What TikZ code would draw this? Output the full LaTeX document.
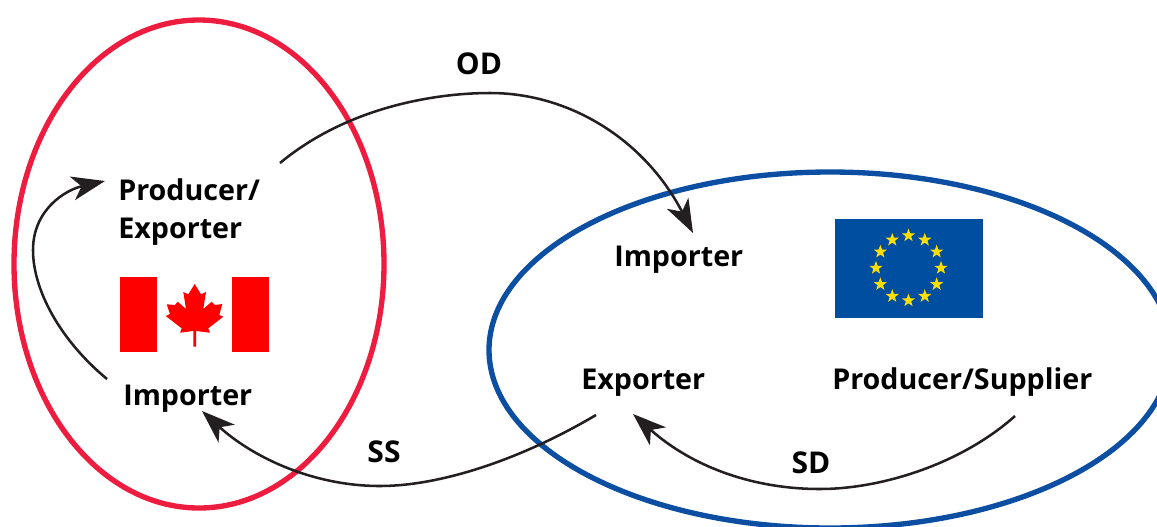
\documentclass[tikz,border=0pt]{standalone}
\usepackage{fontspec}
\setmainfont{Open Sans}
\usetikzlibrary{arrows.meta,shapes.geometric}
\definecolor{redring}{HTML}{EE1C3E}
\definecolor{bluering}{HTML}{0B4EA2}
\definecolor{arrowk}{HTML}{231F20}
\definecolor{euyellow}{HTML}{FFDD00}
\definecolor{eublue}{HTML}{004E9F}
\definecolor{mapler}{HTML}{FF0000}
\tikzset{
  x=0.75pt,y=-0.75pt,
  lab/.style={font=\fontsize{21.5pt}{28pt}\selectfont\bfseries,text=black,inner sep=0pt,align=left},
  tag/.style={font=\fontsize{22.5pt}{28pt}\selectfont\bfseries,text=black,inner sep=0pt},
  ring/.style={line width=4pt},
  flow/.style={draw=arrowk,line width=1.9pt,-{Stealth[length=25pt,width=18pt,inset=7pt,fill=arrowk]}},
  eustar/.style={star,star points=5,star point ratio=2.5,fill=euyellow,draw=none,minimum size=10.5pt,inner sep=0pt}
}
\begin{document}
\begin{tikzpicture}
\useasboundingbox (0,0) rectangle (1157,526);
\begin{scope}
\clip (0,0) rectangle (1157,526);
\draw[ring,draw=redring] (199,264) ellipse [x radius=185,y radius=244];
\draw[ring,draw=bluering] (830,350) ellipse [x radius=341,y radius=178];
\end{scope}

% Canadian flag
\fill[mapler] (120,277) rectangle (157,352);
\fill[mapler] (232,277) rectangle (269,352);
\fill[mapler] (194.7,284) -- (201,294.3) -- (206,292) -- (203.3,309) -- (211.7,301.7) -- (215,305) -- (222.3,304) -- (219.3,315) -- (223.3,316.7) -- (208.3,328.3) -- (210,332.7) -- (196,331) -- (196,346.7) -- (193.3,346.7) -- (193.3,331) -- (180,332.7) -- (181.7,328.3) -- (165.7,316) -- (170,314) -- (166.7,304.3) -- (175,305) -- (177.7,301.7) -- (186,309) -- (183.3,292) -- (188.3,294.3) -- cycle;

% EU flag
\fill[eublue] (835,219) rectangle (983,318);
\foreach \a in {0,30,...,330}
  \node[eustar] (s\a) at ({908.5+32.5*cos(\a)},{268-32.5*sin(\a)}) {};

% Labels
\node[lab,anchor=west] (pe) at (118,212) {Producer/\\Exporter};
\node[lab,anchor=west] (ica) at (123,399) {Importer};
\node[lab,anchor=west] (ieu) at (614,260) {Importer};
\node[lab,anchor=west] (eeu) at (581,383) {Exporter};
\node[lab,anchor=west] (ps) at (832,382) {Producer/Supplier};
\node[tag,anchor=base] (od) at (479,74) {OD};
\node[tag,anchor=base] (ss) at (384,462) {SS};
\node[tag,anchor=base] (sd) at (811,473) {SD};

% Connector ends
\coordinate (odA) at (280,163);
\coordinate (odB) at (693,233);
\coordinate (ssA) at (596,415);
\coordinate (ssB) at (202,411);
\coordinate (sdA) at (1015,416);
\coordinate (sdB) at (633,414);
\coordinate (lpA) at (107,379);
\coordinate (lpB) at (105,181);

\draw[flow] (odA) .. controls (350,105) and (440,93) .. (490,93) .. controls (570,93) and (645,140) .. (odB);
\draw[flow] (ssA) .. controls (520,460) and (440,486) .. (380,486) .. controls (310,486) and (250,455) .. (ssB);
\draw[flow] (sdA) .. controls (960,465) and (880,489) .. (820,489) .. controls (750,489) and (690,465) .. (sdB);
\draw[flow] (lpA) .. controls (60,340) and (33,290) .. (33,250) .. controls (33,210) and (65,190) .. (lpB);
\end{tikzpicture}
\end{document}
